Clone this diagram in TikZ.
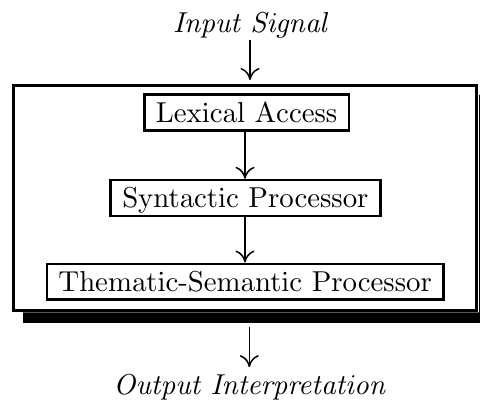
\documentclass[tikz,border=0pt]{standalone}
\usetikzlibrary{arrows.meta}
% Computer Modern at display size, with the proportions of the 10pt design
\font\figrm=cmr10 at 28.8pt
\font\figit=cmti10 at 28.8pt
\tikzset{
  stagebox/.style={draw, line width=2.6pt, fill=white, inner xsep=11.5pt,
    inner ysep=3pt, text height=24.5pt, text depth=5.2pt, font=\figrm},
  sigtext/.style={inner sep=0pt, anchor=base, font=\figit},
  framebox/.style={draw, line width=2.6pt, fill=white, inner sep=0pt,
    minimum width=463.4pt, minimum height=225.4pt},
  shadowfill/.style={fill=black, draw=none},
  flow/.style={line width=1.5pt,
    -{Computer Modern Rightarrow[length=12pt,width=19pt]}},
}
\begin{document}
\begin{tikzpicture}[x=1pt,y=-1pt]
  \useasboundingbox (0,0) rectangle (480,401);
  \clip (0,0) rectangle (480,401);

  % input and output labels
  \node[sigtext] (insig) at (250,33) {Input Signal};
  \node[sigtext] (outsig) at (249.3,394) {Output Interpretation};

  % drop shadow: bar along the bottom and along the right side
  \fill[shadowfill] (23,312.3) -- (479,312.3) -- (479,95) -- (490,95)
    -- (490,323) -- (23,323) -- cycle;
  \coordinate (shadowbase) at (251,323);

  % frame around the processing stages
  \node[framebox] (frame) at (245,198) {};

  % processing stages
  \node[stagebox] (lex) at (246.7,112.5) {Lexical Access};
  \node[stagebox] (syn) at (245.5,198) {Syntactic Processor};
  \node[stagebox] (sem) at (245.3,281.7) {Thematic-Semantic Processor};

  % flow of information
  \draw[flow, shorten <=1pt, shorten >=4pt]
    (insig.south) -- (insig.south |- frame.north);
  \draw[flow] (lex.south -| frame.center) -- (syn.north -| frame.center);
  \draw[flow] (syn.south -| frame.center) -- (sem.north -| frame.center);
  \draw[flow, shorten <=4.5pt, shorten >=7pt]
    (outsig.north |- shadowbase) -- (outsig.north);
\end{tikzpicture}
\end{document}
